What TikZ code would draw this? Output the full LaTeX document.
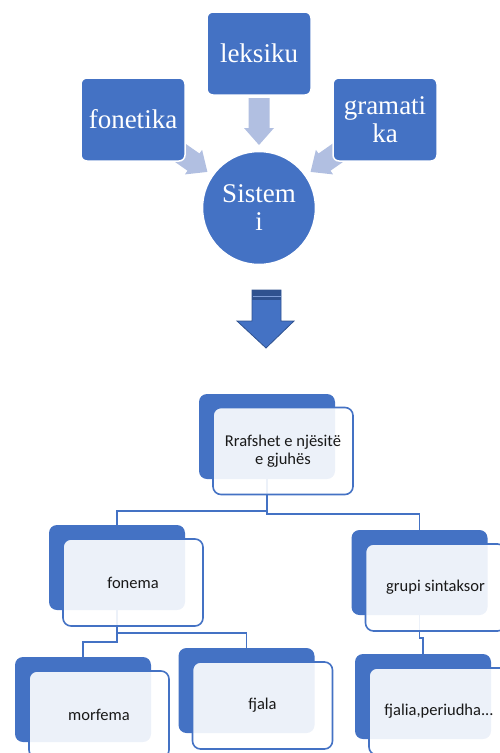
\documentclass[tikz,border=0pt]{standalone}
\usepackage{fontspec}
\setmainfont{Liberation Serif}
\newfontfamily\calib{Carlito}
\definecolor{accblue}{HTML}{4472C4}
\definecolor{darkblue}{HTML}{2F528F}
\definecolor{lightarrow}{HTML}{B1BFE1}
\tikzset{
  topbox/.style={fill=accblue, draw=white, line width=1.5pt, rounded corners=6pt, minimum width=104pt, minimum height=83pt, text=white, align=center, inner sep=2pt, font=\fontsize{27}{28}\selectfont},
  topcirc/.style={circle, fill=accblue, draw=white, line width=1.5pt, minimum size=113pt, text=white, align=center, inner sep=0pt, font=\fontsize{27}{28}\selectfont},
  backbox/.style={fill=accblue, rounded corners=8pt, minimum width=136pt, minimum height=85pt, inner sep=0pt},
  frontbox/.style={fill=white, fill opacity=0.9, text opacity=1, draw=accblue, line width=1.6pt, rounded corners=8pt, minimum width=140pt, minimum height=87pt, inner sep=0pt, align=center, text=black!90, font=\calib\fontsize{16.5}{18.5}\selectfont},
  conn/.style={draw=accblue, line width=1.6pt},
  larrow/.style={fill=lightarrow, draw=none}
}
\begin{document}
\begin{tikzpicture}[x=1pt, y=-1pt]
\useasboundingbox (0,0) rectangle (500,753);
% light arrows (under boxes)
\fill[lightarrow] (248.5,98) -- (269.5,98) -- (269.5,128) -- (274,128) -- (259,145) -- (244,128) -- (248.5,128) -- cycle;
\fill[lightarrow] (162.9,153.5) -- (174.9,136.3) -- (199.5,153.5) -- (202.1,149.8) -- (207.4,171.9) -- (184.9,174.4) -- (187.5,170.7) -- cycle;
\fill[lightarrow] (355.1,153.5) -- (343.1,136.3) -- (318.5,153.5) -- (315.9,149.8) -- (310.6,171.9) -- (333.1,174.4) -- (330.5,170.7) -- cycle;
% top boxes
\node[topbox] (fon) at (133,119.5) {fonetika};
\node[topbox] (lek) at (259,53.5) {leksiku};
\node[topbox] (gram) at (385,119.5) {gramati\\ka};
\node[topcirc] (sis) at (259,208) {Sistem\\i};
% big down arrow
\filldraw[fill=accblue, draw=darkblue, line width=0.8pt] (252,290) -- (281,290) -- (281,321) -- (294,321) -- (266,348) -- (237,321) -- (252,321) -- cycle;
\fill[darkblue] (252,290) rectangle (281,300);
\draw[accblue!70!white, line width=1pt] (252.5,296) -- (280.5,296);
% hierarchy back boxes
\node[backbox] (rootB) at (267,436.5) {};
\node[backbox] (fonB) at (117,567.5) {};
\node[backbox] (grB) at (419.5,572.5) {};
\node[backbox] (morB) at (83,699.5) {};
\node[backbox] (fjB) at (246.5,690.5) {};
\node[backbox] (fjlB) at (423,696.5) {};
% connectors
\draw[conn] (rootB.south) -- ++(0,32) -| (fonB.north);
\draw[conn] (rootB.south) -- ++(0,35) -| (grB.north);
\draw[conn] (fonB.south) -- ++(0,23) -| (fjB.north);
\draw[conn] (fonB.south) -- ++(0,32) -| (morB.north);
\draw[conn] (grB.south) -- ++(0,23) -| (fjlB.north);
% front boxes
\node[frontbox] (rootF) at (283,451) {Rrafshet e njësitë\\e gjuhës};
\node[frontbox] (fonF) at (133,582.5) {fonema};
\node[frontbox] (grF) at (435.5,587.5) {grupi sintaksor};
\node[frontbox] (morF) at (99,714.5) {morfema};
\node[frontbox] (fjF) at (262.5,705.5) {fjala};
\node[frontbox] (fjlF) at (439,711.5) {fjalia,periudha...};
\end{tikzpicture}
\end{document}
